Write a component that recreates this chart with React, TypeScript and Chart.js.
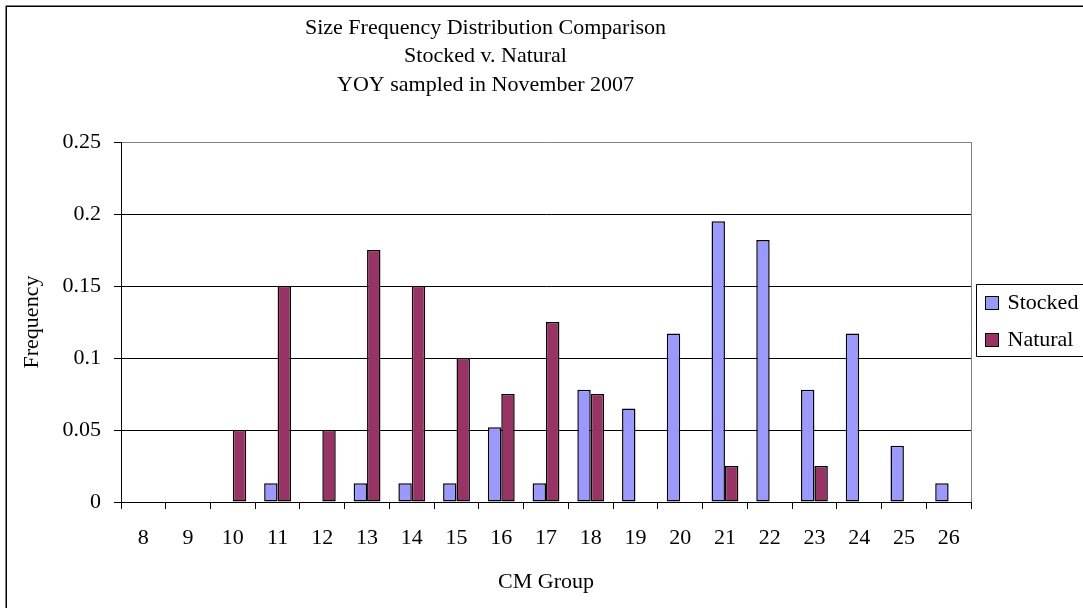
import React, { useEffect, useRef } from "react";
import { Chart, registerables } from "chart.js";

Chart.register(...registerables);

const categories = ["8", "9", "10", "11", "12", "13", "14", "15", "16", "17", "18", "19", "20", "21", "22", "23", "24", "25", "26"];
const stockedValues = [0, 0, 0, 0.013, 0, 0.013, 0.013, 0.013, 0.052, 0.013, 0.078, 0.065, 0.117, 0.195, 0.182, 0.078, 0.117, 0.039, 0.013];
const naturalValues = [0, 0, 0.05, 0.15, 0.05, 0.175, 0.15, 0.1, 0.075, 0.125, 0.075, 0, 0, 0.025, 0, 0.025, 0, 0, 0];
const seriesNames = ["Stocked", "Natural"];
const titleLines = ["Size Frequency Distribution Comparison", "Stocked v. Natural", "YOY sampled in November 2007"];
const yTicks = [0, 0.05, 0.1, 0.15, 0.2, 0.25];
const xAxisTitle = "CM Group";
const yAxisTitle = "Frequency";

const FONT = "'Liberation Serif', 'Times New Roman', serif";

const framePlugin = {
  id: "frame",
  beforeDraw(chart: any) {
    const ctx = chart.ctx;
    ctx.save();
    ctx.fillStyle = "#ffffff";
    ctx.fillRect(0, 0, chart.width, chart.height);
    ctx.strokeStyle = "#000000";
    ctx.lineWidth = 1.5;
    ctx.beginPath();
    ctx.moveTo(6.25, chart.height + 2);
    ctx.lineTo(6.25, 6.25);
    ctx.lineTo(chart.width + 2, 6.25);
    ctx.stroke();
    ctx.restore();
  },
  afterDraw(chart: any) {
    const ctx = chart.ctx;
    const a = chart.chartArea;
    ctx.save();
    ctx.strokeStyle = "#808080";
    ctx.lineWidth = 1;
    ctx.beginPath();
    ctx.moveTo(Math.round(a.right) + 0.5, a.top);
    ctx.lineTo(Math.round(a.right) + 0.5, a.bottom);
    ctx.stroke();

    // legend
    const left = a.right + 5.5;
    const top = 284.5;
    const bottom = 356.5;
    ctx.strokeStyle = "#000000";
    ctx.beginPath();
    ctx.moveTo(chart.width + 2, top);
    ctx.lineTo(left, top);
    ctx.lineTo(left, bottom);
    ctx.lineTo(chart.width + 2, bottom);
    ctx.stroke();
    const ys = [303, 340];
    ctx.font = `22px ${FONT}`;
    ctx.textBaseline = "middle";
    ctx.textAlign = "left";
    chart.data.datasets.forEach((ds: any, i: number) => {
      const y = ys[i];
      ctx.fillStyle = ds.backgroundColor;
      ctx.fillRect(left + 9, y - 6.5, 13, 13);
      ctx.strokeStyle = "#000000";
      ctx.strokeRect(left + 9, y - 6.5, 13, 13);
      ctx.fillStyle = "#000000";
      ctx.fillText(ds.label, left + 31, y);
    });
    ctx.restore();
  },
};

export default function App() {
  const ref = useRef<HTMLCanvasElement>(null);
  useEffect(() => {
    const chart = new Chart(ref.current as HTMLCanvasElement, {
      type: "bar",
      data: {
        labels: categories,
        datasets: [
          {
            label: seriesNames[0],
            data: stockedValues,
            backgroundColor: "#9999FF",
            borderColor: "#000000",
            borderWidth: 1.5,
            borderSkipped: false,
            inflateAmount: 0,
            categoryPercentage: 0.6,
            barPercentage: 1.0,
          },
          {
            label: seriesNames[1],
            data: naturalValues,
            backgroundColor: "#993366",
            borderColor: "#000000",
            borderWidth: 1.5,
            borderSkipped: false,
            inflateAmount: 0,
            categoryPercentage: 0.6,
            barPercentage: 1.0,
          },
        ],
      },
      options: {
        animation: false,
        responsive: false,
        devicePixelRatio: 1,
        layout: { padding: { left: 0, right: 112, top: 0, bottom: 0 } },
        plugins: {
          legend: { display: false },
          tooltip: { enabled: false },
          title: {
            display: true,
            text: titleLines,
            color: "#000000",
            font: { family: FONT, size: 22, weight: "normal", lineHeight: 1.2886 },
            padding: { top: 14, bottom: 43 },
          },
        },
        scales: {
          x: {
            afterFit: (s: any) => {
              s.height = 106;
            },
            grid: {
              display: true,
              drawOnChartArea: false,
              drawTicks: true,
              tickLength: 7,
              tickColor: "#000000",
              offset: true,
            },
            border: { display: true, color: "#000000", width: 1 },
            ticks: {
              color: "#000000",
              font: { family: FONT, size: 22 },
              padding: 16,
              maxRotation: 0,
              autoSkip: false,
            },
            title: {
              display: true,
              text: xAxisTitle,
              color: "#000000",
              font: { family: FONT, size: 22 },
              padding: { top: 0, bottom: 13 },
            },
          },
          y: {
            min: yTicks[0],
            max: yTicks[yTicks.length - 1],
            afterFit: (s: any) => {
              s.width = 121;
            },
            afterBuildTicks: (s: any) => {
              s.ticks = yTicks.map((v) => ({ value: v }));
            },
            grid: {
              display: true,
              drawOnChartArea: true,
              drawTicks: true,
              tickLength: 7,
              tickColor: "#000000",
              color: (c: any) => (c.tick && Math.abs(c.tick.value - 0.25) < 1e-9 ? "#808080" : "#000000"),
              lineWidth: 1,
            },
            border: { display: true, color: "#000000", width: 1 },
            ticks: {
              color: "#000000",
              font: { family: FONT, size: 22 },
              padding: 13,
              callback: (v: any) => String(+Number(v).toFixed(2)),
            },
            title: {
              display: true,
              text: yAxisTitle,
              color: "#000000",
              font: { family: FONT, size: 22 },
              padding: { top: 19, bottom: 0 },
            },
          },
        },
      },
      plugins: [framePlugin],
    } as any);
    return () => chart.destroy();
  }, []);
  return (
    <div style={{ position: "fixed", left: 0, top: 0, width: 1083, height: 608, background: "#fff" }}>
      <canvas ref={ref} width={1083} height={608} style={{ display: "block", width: 1083, height: 608 }} />
    </div>
  );
}
